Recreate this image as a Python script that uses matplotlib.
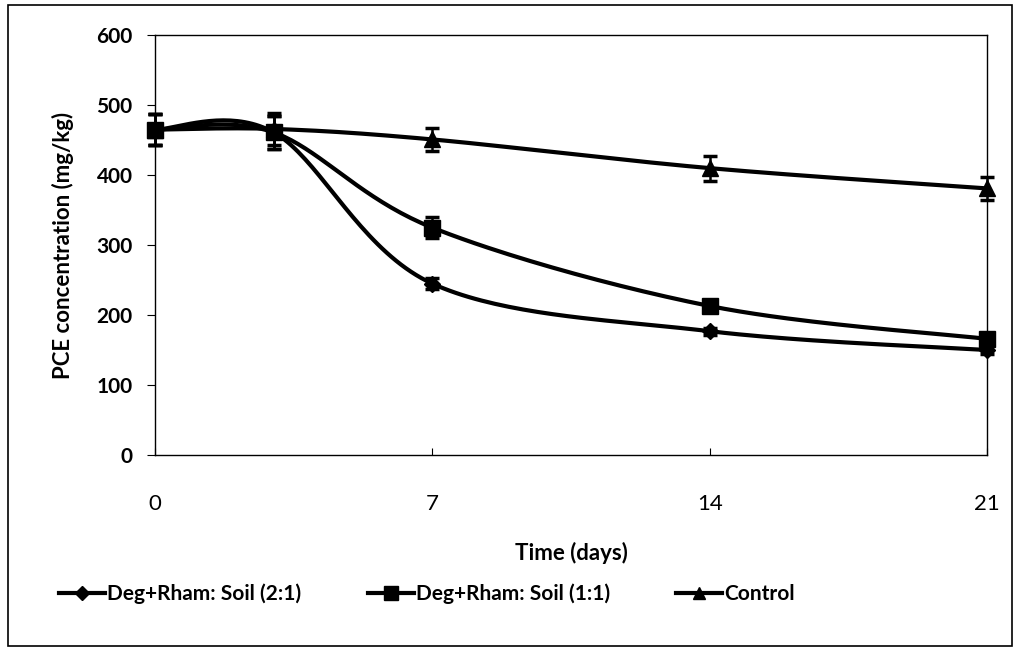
import numpy as np
import matplotlib.pyplot as plt
from matplotlib.patches import Rectangle
from matplotlib.lines import Line2D

days = [0, 3, 7, 14, 21]
ratio_21 = [465, 461, 245, 177, 150]
ratio_11 = [465, 461, 325, 213, 166]
control = [465, 466, 451, 410, 381]
err_21 = [22, 23, 8, 5, 6]
err_11 = [22, 23, 15, 6, 8]
err_ctrl = [22, 23, 16, 18, 17]
labels = ['Deg+Rham: Soil (2:1)', 'Deg+Rham: Soil (1:1)', 'Control']
markers = ['D', 's', '^']
msizes = [8, 12, 11]

plt.rcParams['font.family'] = ['Lato', 'DejaVu Sans']


def smooth(x, y, n=40):
    # Excel-style smoothed line: Bezier segments with Catmull-Rom control points
    p = np.column_stack([x, y]).astype(float)
    pts = [p[0]] + list(p) + [p[-1]]
    out = []
    for i in range(len(p) - 1):
        p0, p1, p2, p3 = pts[i], pts[i + 1], pts[i + 2], pts[i + 3]
        b1 = p1 + (p2 - p0) / 6
        b2 = p2 - (p3 - p1) / 6
        t = np.linspace(0, 1, n)[:, None]
        seg = ((1 - t) ** 3) * p1 + 3 * ((1 - t) ** 2) * t * b1 + 3 * (1 - t) * t ** 2 * b2 + t ** 3 * p2
        out.append(seg)
    c = np.vstack(out)
    return c[:, 0], c[:, 1]


fig = plt.figure(figsize=(10.19, 6.51), dpi=100)
ax = fig.add_axes([0.152, 0.301, 0.8166, 0.645])

series = [(ratio_21, err_21), (ratio_11, err_11), (control, err_ctrl)]
for (vals, errs), mk, ms in zip(series, markers, msizes):
    sx, sy = smooth(days, vals)
    ax.plot(sx, sy, color='black', lw=3, clip_on=False, zorder=3)
    ax.errorbar(days, vals, yerr=errs, fmt='none', ecolor='black',
                elinewidth=1.8, capsize=5, capthick=2.5, clip_on=False, zorder=4)
    ax.plot(days, vals, linestyle='none', marker=mk, ms=ms, color='black',
            clip_on=False, zorder=5)

ax.set_xlim(0, 21)
ax.set_ylim(0, 600)
ax.set_xticks([0, 7, 14, 21])
ax.set_yticks(range(0, 601, 100))
ax.tick_params(axis='x', direction='in', length=5, labelsize=16, pad=28)
ax.tick_params(axis='y', direction='out', length=6, labelsize=15, pad=10)
for lab in ax.get_yticklabels():
    lab.set_fontweight('bold')
for s in ax.spines.values():
    s.set_linewidth(1.0)

ax.set_xlabel('Time (days)', fontsize=16, fontweight='bold', labelpad=20)
ax.set_ylabel('PCE concentration (mg/kg)', fontsize=16, fontweight='bold', labelpad=16)

handles = [Line2D([0], [0], color='black', lw=3, marker=mk, ms=ms * 0.85)
           for mk, ms in zip(markers, msizes)]
fig.legend(handles, labels, loc='center', bbox_to_anchor=(0.419, 0.088), ncol=3,
           frameon=False, prop={'size': 15, 'weight': 'bold'},
           handlelength=2.2, handletextpad=0.1, columnspacing=3.2)

fig.patches.append(Rectangle((0.008, 0.008), 0.985, 0.985, transform=fig.transFigure,
                             fill=False, edgecolor='black', lw=1.2))

fig.savefig('out.png', dpi=100)
